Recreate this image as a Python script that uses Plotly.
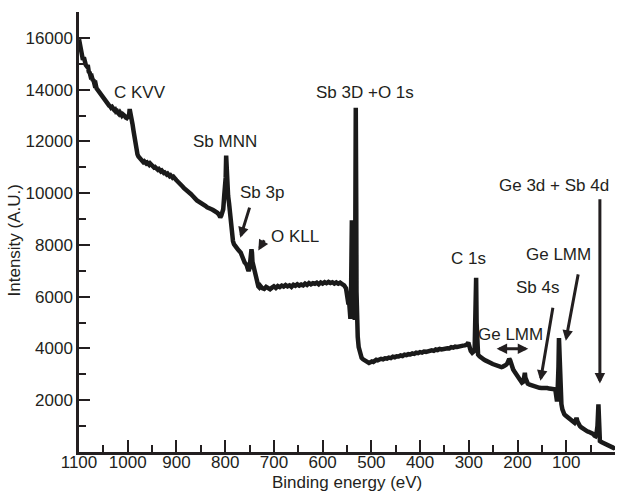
import plotly.graph_objects as go

# XPS survey spectrum: binding energy (eV) vs. intensity (A.U.)
energy_ev = [
    1100, 1098, 1096, 1094, 1092, 1090, 1088, 1086, 1084, 1082, 1080, 1078, 1076, 1074, 1072, 1070,
    1068, 1066, 1064, 1062, 1060, 1058, 1056, 1054, 1052, 1050, 1048, 1046, 1044, 1042, 1040, 1038,
    1036, 1034, 1032, 1030, 1028, 1026, 1024, 1022, 1020, 1018, 1016, 1014, 1012, 1010, 1008, 1006,
    1004, 1002, 1000, 998, 996, 994, 992, 990, 988, 986, 984, 982, 980, 978, 976, 974, 972, 970,
    968, 966, 964, 962, 960, 958, 956, 954, 952, 950, 948, 946, 944, 942, 940, 938, 936, 934, 932,
    930, 928, 926, 924, 922, 920, 918, 916, 914, 912, 910, 908, 906, 904, 902, 900, 897, 894, 891,
    888, 885, 882, 879, 876, 873, 870, 867, 864, 861, 858, 855, 852, 849, 846, 843, 840, 837, 834,
    831, 828, 825, 822, 819, 816, 813, 810, 808, 806, 804, 802, 800, 799, 798, 797, 796, 794, 792,
    791, 790, 788, 786, 784, 782, 780, 778, 776, 774, 772, 770, 768, 766, 764, 762, 760, 758, 756,
    754, 752, 750, 748, 746, 745, 744, 742, 740, 738, 736, 734, 732, 730, 728, 724, 720, 716, 712,
    708, 704, 700, 696, 692, 688, 684, 680, 676, 672, 668, 664, 660, 656, 652, 648, 644, 640, 636,
    632, 628, 624, 620, 616, 612, 608, 604, 600, 596, 592, 588, 584, 580, 576, 572, 568, 564, 560,
    556, 552, 549, 547, 546, 545, 544, 543, 542, 541.5, 541, 540.5, 540, 539.5, 539, 538.5, 538,
    537.5, 537, 536.5, 536, 535.5, 535, 534.5, 534, 533.5, 533, 532.5, 532, 531.5, 531, 530.5, 530,
    529, 528, 526, 524, 522, 520, 517, 514, 511, 508, 505, 502, 499, 496, 493, 490, 487, 484, 480,
    476, 472, 468, 464, 460, 456, 452, 448, 444, 440, 436, 432, 428, 424, 420, 416, 412, 408, 404,
    400, 396, 392, 388, 384, 380, 376, 372, 368, 364, 360, 356, 352, 348, 344, 340, 336, 332, 328,
    324, 320, 316, 312, 308, 304, 301, 299, 296, 293, 290, 288, 286, 285, 284, 283, 281, 278, 275,
    272, 269, 266, 263, 260, 257, 254, 251, 248, 245, 242, 239, 236, 233, 230, 227, 224, 221, 219,
    217, 215, 213, 211, 209, 206, 203, 200, 197, 194, 191, 188, 186, 185, 184, 182, 179, 175, 171,
    167, 163, 159, 155, 151, 147, 143, 139, 135, 131, 127, 124, 122, 121, 120, 119, 118, 117, 116,
    115, 114, 113, 112, 110, 108, 106, 104, 102, 100, 97, 94, 91, 88, 85, 83, 81, 79, 77, 75, 72,
    69, 66, 63, 60, 57, 54, 51, 48, 45, 42, 40, 38, 36, 34, 33, 32, 31, 28, 25, 21, 17, 13, 9, 6, 3,
    1, 0,
]
intensity = [
    15950, 15700, 15450, 15380, 15150, 15250, 15000, 14950, 14900, 14950, 14700, 14650, 14500, 14520, 14380, 14350,
    14200, 14230, 14050, 14000, 13930, 13900, 13780, 13800, 13680, 13630, 13600, 13560, 13480, 13500, 13420, 13380,
    13360, 13300, 13330, 13240, 13220, 13240, 13150, 13170, 13100, 13060, 13120, 13020, 13000, 13050, 12970, 12980,
    12920, 12900, 12950, 12880, 13250, 13100, 12800, 12650, 12400, 12150, 11900, 11580, 11500, 11420, 11380, 11300, 11320, 11250,
    11200, 11230, 11170, 11150, 11180, 11120, 11100, 11150, 11110, 11080, 11020, 10990, 11010, 10950, 10920, 10900, 10930, 10860, 10840,
    10870, 10800, 10780, 10800, 10740, 10720, 10750, 10680, 10660, 10690, 10620, 10600, 10630, 10560, 10540, 10500, 10440, 10400, 10320,
    10270, 10200, 10160, 10080, 10040, 9990, 9960, 9900, 9800, 9780, 9720, 9690, 9640, 9600, 9560, 9530, 9500, 9450, 9440,
    9410, 9380, 9350, 9320, 9290, 9240, 9180, 9070, 9130, 9300, 9380, 9900, 10200, 10600, 11450, 10900, 10150, 9900, 9600,
    9400, 8900, 8550, 8300, 8150, 8030, 7960, 7900, 7880, 7830, 7780, 7760, 7700, 7600, 7470, 7400, 7320, 7280, 7230,
    7100, 6990, 7100, 7400, 7830, 7700, 7350, 7180, 6950, 6780, 6560, 6450, 6400, 6360, 6420, 6330, 6300, 6380, 6330,
    6290, 6350, 6400, 6340, 6410, 6370, 6430, 6390, 6450, 6400, 6440, 6380, 6460, 6420, 6480, 6430, 6470, 6440, 6510,
    6460, 6530, 6480, 6520, 6500, 6540, 6480, 6550, 6510, 6560, 6520, 6570, 6530, 6560, 6510, 6550, 6500, 6540, 6490,
    6440, 6320, 6000, 5700, 5900, 5300, 5700, 5150, 5600, 6800, 8200, 7600, 8950, 6200, 7300, 5400, 5500,
    7000, 5600, 7100, 5200, 6900, 6400, 5300, 5100, 6200, 7800, 11000, 13300, 8800, 9400, 6200, 5000,
    4700, 4450, 4050, 3850, 3720, 3640, 3580, 3540, 3490, 3460, 3440, 3470, 3500, 3480, 3530, 3560, 3540, 3580, 3600,
    3580, 3620, 3610, 3650, 3630, 3680, 3660, 3700, 3690, 3730, 3710, 3760, 3740, 3780, 3770, 3810, 3790, 3840, 3820,
    3860, 3840, 3880, 3870, 3900, 3890, 3930, 3910, 3960, 3940, 3980, 3960, 3990, 3980, 4010, 4000, 4050, 4030, 4070,
    4060, 4090, 4080, 4110, 4120, 4150, 4230, 4050, 3900, 3830, 3880, 4000, 5200, 6730, 5000, 3950, 3760, 3700, 3640,
    3600, 3570, 3540, 3500, 3480, 3450, 3430, 3400, 3380, 3350, 3330, 3300, 3260, 3280, 3300, 3320, 3360, 3420, 3560,
    3600, 3540, 3400, 3280, 3190, 3100, 3020, 2940, 2860, 2760, 2680, 2720, 2900, 3060, 2880, 2700, 2640, 2600, 2570,
    2540, 2520, 2500, 2480, 2470, 2480, 2460, 2470, 2450, 2440, 2430, 2420, 2350, 2050, 2300, 1950, 2230, 2600, 3300,
    4400, 3700, 2700, 2100, 1850, 1650, 1520, 1460, 1420, 1390, 1350, 1290, 1230, 1180, 1140, 1130, 1200, 1320, 1180, 1050, 1000,
    950, 900, 860, 820, 800, 780, 760, 740, 700, 630, 610, 700, 1000, 1840, 1300, 700, 420, 380, 350, 320, 290, 250, 220, 190, 160,
    180, 220,
]

# Axis ticks
x_ticks = [0, 100, 200, 300, 400, 500, 600, 700, 800, 900, 1000, 1100]
x_minor = [50, 150, 250, 350, 450, 550, 650, 750, 850, 950, 1050]
y_ticks = [2000, 4000, 6000, 8000, 10000, 12000, 14000, 16000]
y_minor = [1000, 3000, 5000, 7000, 9000, 11000, 13000, 15000, 17000]

# Peak labels: text, x (eV), y (A.U.)
label_text = ["C KVV", "Sb MNN", "Sb 3p", "O KLL", "Sb 3D +O 1s", "C 1s",
              "Ge LMM", "Sb 4s", "Ge LMM", "Ge 3d + Sb 4d"]
label_x = [975, 800, 724, 657, 513, 301, 215, 159, 115, 125]
label_y = [13890, 12010, 10040, 8330, 13880, 7480, 4540, 6345, 7630, 10300]

# Pointer arrows: tail (x, y) -> head (x, y)
arrow_tail_x = [749, 718, 127, 75, 31]
arrow_tail_y = [9500, 8240, 5630, 6920, 9820]
arrow_head_x = [769, 732, 153, 101, 31]
arrow_head_y = [8280, 7790, 2750, 4300, 2650]

# Double-headed span arrow (Ge LMM region)
span_x = [246, 178]
span_y = 3990

ink = "#231f20"
font_family = "Liberation Sans, Arial, sans-serif"

fig = go.Figure()
fig.add_trace(go.Scatter(
    x=energy_ev, y=intensity, mode="lines",
    line=dict(color="#1a1a1a", width=4.5),
    showlegend=False, hoverinfo="skip",
))

annotations = []
for t, x, y in zip(label_text, label_x, label_y):
    annotations.append(dict(x=x, y=y, xref="x", yref="y", text=t, showarrow=False,
                            font=dict(size=17, color=ink, family=font_family)))
for tx, ty, hx, hy in zip(arrow_tail_x, arrow_tail_y, arrow_head_x, arrow_head_y):
    annotations.append(dict(x=hx, y=hy, ax=tx, ay=ty, xref="x", yref="y", axref="x", ayref="y",
                            text="", showarrow=True, arrowhead=2, arrowsize=0.7,
                            arrowwidth=3, arrowcolor=ink, standoff=0))
annotations.append(dict(x=span_x[1], y=span_y, ax=span_x[0], ay=span_y, xref="x", yref="y",
                        axref="x", ayref="y", text="", showarrow=True, arrowhead=2,
                        arrowside="end+start", arrowsize=0.7, arrowwidth=3,
                        arrowcolor=ink, standoff=0, startstandoff=0, startarrowhead=2,
                        startarrowsize=0.7))

# Axis titles placed in paper coordinates
annotations.append(dict(x=0.5, y=-0.069, xref="paper", yref="paper", yanchor="middle",
                        text="Binding energy (eV)", showarrow=False,
                        font=dict(size=17, color=ink, family=font_family)))
annotations.append(dict(x=-0.12, y=0.48, xref="paper", yref="paper", xanchor="center",
                        yanchor="middle", textangle=-90, text="Intensity (A.U.)",
                        showarrow=False, font=dict(size=17, color=ink, family=font_family)))

fig.update_layout(
    width=619, height=492,
    margin=dict(l=79, r=4, t=12, b=40),
    paper_bgcolor="white", plot_bgcolor="white",
    font=dict(family=font_family, size=17, color=ink),
    annotations=annotations,
    xaxis=dict(
        range=[1100, 0], tickmode="array", tickvals=x_ticks,
        ticktext=[str(v) for v in x_ticks], ticklabelstandoff=-7,
        ticks="inside", ticklen=12, tickwidth=2, tickcolor=ink,
        minor=dict(tickmode="array", tickvals=x_minor, ticks="inside", ticklen=7, tickwidth=2, tickcolor=ink),
        showline=True, linewidth=2.5, linecolor=ink, showgrid=False, zeroline=False,
        automargin=False,
    ),
    yaxis=dict(
        range=[0, 17000], tickmode="array", tickvals=y_ticks,
        ticktext=[str(v) for v in y_ticks],
        ticks="inside", ticklen=11, tickwidth=2, tickcolor=ink,
        minor=dict(tickmode="array", tickvals=y_minor, ticks="inside", ticklen=7, tickwidth=2, tickcolor=ink),
        showline=True, linewidth=2.5, linecolor=ink, showgrid=False, zeroline=False,
        automargin=False,
    ),
)

fig.write_html("out.html")
